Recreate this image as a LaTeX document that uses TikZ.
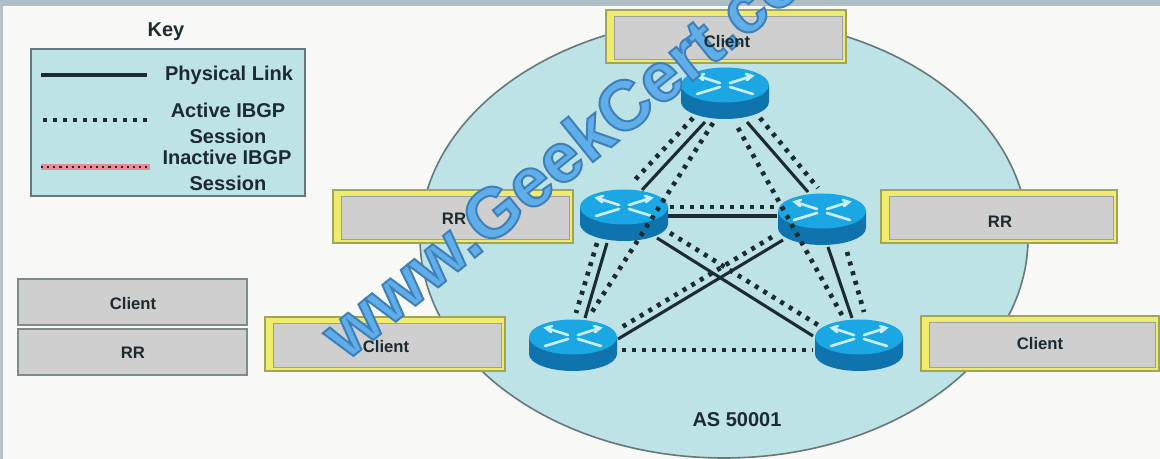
\documentclass[tikz,border=0pt]{standalone}
\usepackage{fontspec}
\setmainfont{Liberation Sans}
\usetikzlibrary{calc}
\definecolor{pagebg}{HTML}{F8F9F6}
\definecolor{topband}{HTML}{AEBEC6}
\definecolor{sidebar}{HTML}{B8C2C4}
\definecolor{aqua}{HTML}{BEE3E6}
\definecolor{aquaedge}{HTML}{66797A}
\definecolor{boxgrey}{HTML}{CFCFCF}
\definecolor{boxedge}{HTML}{7F8A8A}
\definecolor{ylw}{HTML}{EFEB6E}
\definecolor{ylwedge}{HTML}{A0A558}
\definecolor{rtop}{HTML}{1BA6E4}
\definecolor{rbody}{HTML}{0F74AE}
\definecolor{rline}{HTML}{C9EEF6}
\definecolor{ink}{HTML}{1B2B30}
\definecolor{wmfill}{HTML}{5FAEEA}
\definecolor{pinkband}{HTML}{E98A94}
\tikzset{
  lbl/.style={font=\bfseries\fontsize{15}{17}\selectfont,text=ink,inner sep=0pt,anchor=center},
  boxlbl/.style={font=\bfseries\fontsize{12.5}{14}\selectfont,text=ink,inner sep=0pt,anchor=center},
  phys/.style={draw=ink,line width=2.3pt},
  ibgp/.style={draw=ink,line width=3.5pt,dash pattern=on 3pt off 4.5pt},
  inactive/.style={draw=ink,line width=1.6pt,dash pattern=on 1.6pt off 3pt},
  plainbox/.style={draw=boxedge,fill=boxgrey,line width=1.1pt},
  ylwbox/.style={draw=ylwedge,fill=ylw,line width=1.2pt},
  innerbox/.style={draw=boxedge!80,fill=boxgrey,line width=0.7pt},
  rarrow/.style={draw=rline,line width=2pt,line cap=round}
}
\newcommand{\drawrouter}[1]{%
  \begin{scope}[shift={(#1)}]
    \fill[rbody] (-44,-8) -- (-44,9) arc[x radius=44,y radius=17,start angle=180,end angle=0] -- (44,-8) -- cycle;
    \fill[rtop] (0,-8) ellipse[x radius=44,y radius=17.5];
    \draw[rarrow] (-27,-17) -- (-5,-10);
    \draw[rarrow] (27,-17) -- (5,-10);
    \draw[rarrow] (-5,-6) -- (-28,1);
    \draw[rarrow] (5,-6) -- (28,1);
    \draw[rarrow] (-21,-19) -- (-27,-17) -- (-22,-13);
    \draw[rarrow] (21,-19) -- (27,-17) -- (22,-13);
  \end{scope}}
\newcommand{\ylwbox}[4]{%
  \draw[ylwbox] (#1,#2) rectangle (#3,#4);
  \draw[innerbox] ({#1+8},{#2+6}) rectangle ({#3-4},{#4-4});}
\begin{document}
\begin{tikzpicture}[x=0.75pt,y=-0.75pt]
\useasboundingbox (0,0) rectangle (1160,459);
\fill[pagebg] (0,0) rectangle (1160,459);
\fill[topband] (0,0) rectangle (1160,6);
\fill[sidebar] (0,6) rectangle (3,459);
% AS ellipse
\begin{scope}
  \clip (0,0) rectangle (1160,459);
  \draw[fill=aqua,draw=aquaedge,line width=1.2pt] (724,238) ellipse[x radius=304,y radius=220];
\end{scope}
\node[lbl] (askey) at (166,32) {Key};
\draw[fill=aqua,draw=aquaedge,line width=1.6pt] (31,49) rectangle (305,196);
\coordinate (k1a) at (41,75); \coordinate (k1b) at (147,75);
\coordinate (k2a) at (43,120); \coordinate (k2b) at (151,120);
\coordinate (k3a) at (41,167); \coordinate (k3b) at (150,167);
\draw[phys] (k1a) -- (k1b);
\draw[ibgp] (k2a) -- (k2b);
\draw[draw=pinkband,line width=4pt] (k3a) -- (k3b);
\draw[inactive] (k3a) -- (k3b);
\node[lbl] (tphys) at (229,75) {Physical Link};
\node[lbl] (tact) at (228,110) {Active IBGP};
\begin{scope}
  \clip (150,122) rectangle (300,143);
  \node[lbl] (tses1) at (228,136) {Session};
\end{scope}
\node[lbl] (tina) at (227,157) {Inactive IBGP};
\node[lbl] (tses2) at (228,183) {Session};
% plain boxes
\draw[plainbox] (18,279) rectangle (247,325);
\node[boxlbl] (c0) at (133,304) {Client};
\draw[plainbox] (18,329) rectangle (247,375);
\node[boxlbl] (rr0) at (133,353) {RR};
% yellow boxes
\ylwbox{606}{10}{846}{63}
\ylwbox{333}{190}{573}{243}
\ylwbox{881}{190}{1117}{243}
\ylwbox{265}{317}{505}{371}
\ylwbox{921}{316}{1159}{371}
\node[lbl] (asn) at (737,420) {AS 50001};
% routers
\coordinate (r1) at (725,93);
\coordinate (r2) at (624,215);
\coordinate (r3) at (822,219);
\coordinate (r4) at (573,345);
\coordinate (r5) at (859,345);
% physical links
\draw[phys] ([shift={(-20,29)}]r1) -- ([shift={(18,-25)}]r2);
\draw[phys] ([shift={(22,29)}]r1) -- ([shift={(-14,-27)}]r3);
\draw[phys] ([shift={(44,1)}]r2) -- ([shift={(-45,-3)}]r3);
\draw[phys] ([shift={(-17,28)}]r2) -- ([shift={(12,-27)}]r4);
\draw[phys] ([shift={(6,28)}]r3) -- ([shift={(-7,-27)}]r5);
\draw[phys] ([shift={(33,23)}]r2) -- ([shift={(-46,-9)}]r5);
\draw[phys] ([shift={(-39,21)}]r3) -- ([shift={(45,-6)}]r4);
\drawrouter{r1}
\drawrouter{r2}
\drawrouter{r3}
\drawrouter{r4}
\drawrouter{r5}
% IBGP sessions
\draw[ibgp] ([shift={(-32,25)}]r1) -- ([shift={(8,-32)}]r2);
\draw[ibgp] ([shift={(35,25)}]r1) -- ([shift={(-4,-31)}]r3);
\draw[ibgp] ([shift={(-12,30)}]r1) -- ([shift={(17,-30)}]r4);
\draw[ibgp] ([shift={(13,35)}]r1) -- ([shift={(-16,-28)}]r5);
\draw[ibgp] ([shift={(46,-8)}]r2) -- ([shift={(-45,-12)}]r3);
\draw[ibgp] ([shift={(-27,28)}]r2) -- ([shift={(3,-32)}]r4);
\draw[ibgp] ([shift={(25,33)}]r3) -- ([shift={(5,-33)}]r5);
\draw[ibgp] ([shift={(46,18)}]r2) -- ([shift={(-41,-20)}]r5);
\draw[ibgp] ([shift={(-50,18)}]r3) -- ([shift={(49,-18)}]r4);
\draw[ibgp] ([shift={(49,5)}]r4) -- ([shift={(-46,5)}]r5);
% watermark
\begin{scope}
  \clip (0,0) rectangle (1160,459);
  \coordinate (wmstart) at (346,362);
  \node[anchor=base west,rotate=39,inner sep=0pt,text=wmfill,font=\bfseries\fontsize{52.5}{52.5}\selectfont] (wm) at (wmstart) {\special{pdf:code 2 Tr 1.5 w 0.25 0.5 0.72 RG}www.GeekCert.com\special{pdf:code 0 Tr}};
\end{scope}
% box labels sit above the watermark
\node[boxlbl] (c1) at (727,42) {Client};
\node[boxlbl] (rr1) at (454,219) {RR};
\node[boxlbl] (rr2) at (1000,222) {RR};
\node[boxlbl] (c2) at (386,347) {Client};
\node[boxlbl] (c3) at (1040,344) {Client};
\end{tikzpicture}
\end{document}
